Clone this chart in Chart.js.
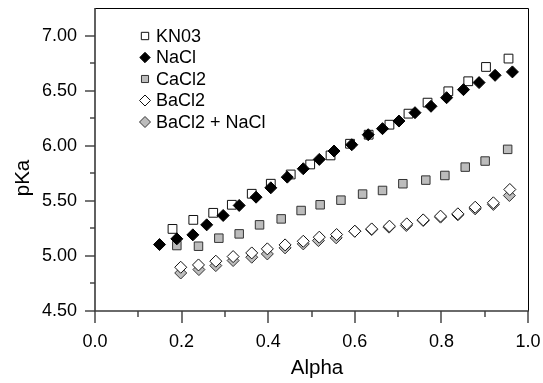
<!DOCTYPE html>
<html>
<head>
<meta charset="utf-8">
<script src="https://cdn.jsdelivr.net/npm/chart.js@4.4.0/dist/chart.umd.min.js"></script>
<style>
html,body{margin:0;padding:0;background:#fff;}
#wrap{width:543px;height:383px;position:relative;}
</style>
</head>
<body>
<div id="wrap"><canvas id="c" width="543" height="383"></canvas></div>
<script>
// ---- data ----
const kno3X = [0.179,0.227,0.273,0.316,0.362,0.406,0.452,0.497,0.544,0.589,0.632,0.680,0.724,0.768,0.816,0.862,0.903,0.955];
const kno3Y = [5.245,5.327,5.391,5.464,5.564,5.655,5.739,5.830,5.912,6.018,6.100,6.191,6.291,6.391,6.494,6.585,6.715,6.791];

const naclX = [0.149,0.189,0.226,0.258,0.296,0.333,0.372,0.406,0.444,0.481,0.518,0.552,0.593,0.631,0.664,0.702,0.739,0.776,0.812,0.851,0.887,0.924,0.964];
const naclY = [5.103,5.155,5.191,5.282,5.367,5.458,5.533,5.618,5.715,5.791,5.876,5.952,6.009,6.100,6.155,6.224,6.300,6.358,6.436,6.509,6.573,6.639,6.670];

const cacl2X = [0.189,0.239,0.286,0.333,0.380,0.430,0.476,0.520,0.568,0.618,0.664,0.711,0.764,0.808,0.855,0.901,0.953];
const cacl2Y = [5.094,5.088,5.161,5.200,5.282,5.336,5.412,5.464,5.506,5.561,5.594,5.655,5.688,5.730,5.806,5.861,5.967];

const bacl2X = [0.198,0.239,0.279,0.319,0.362,0.398,0.439,0.481,0.518,0.558,0.600,0.639,0.680,0.720,0.758,0.798,0.838,0.878,0.920,0.958];
const bacl2Y = [4.897,4.918,4.952,4.994,5.027,5.064,5.100,5.133,5.170,5.194,5.224,5.245,5.270,5.291,5.327,5.361,5.382,5.442,5.482,5.603];

const bacl2NaclX = [0.198,0.240,0.279,0.319,0.362,0.398,0.439,0.481,0.516,0.557,0.600,0.639,0.679,0.719,0.758,0.798,0.838,0.878,0.920,0.957];
const bacl2NaclY = [4.845,4.876,4.912,4.958,4.988,5.018,5.073,5.109,5.139,5.164,5.224,5.239,5.261,5.276,5.321,5.352,5.373,5.427,5.467,5.548];

const seriesNames = ['KN03','NaCl','CaCl2','BaCl2','BaCl2 + NaCl'];
const xTickLabels = ['0.0','0.2','0.4','0.6','0.8','1.0'];
const yTickLabels = ['4.50','5.00','5.50','6.00','6.50','7.00'];
const xTitle = 'Alpha';
const yTitle = 'pKa';

function pts(xs, ys){ return xs.map((x,i)=>({x:x, y:ys[i]})); }

const FONT = '"Liberation Sans", Arial, Helvetica, sans-serif';

const styles = {
  'KN03':        {shape:'rect',    fill:'#ffffff', stroke:'#111111', r:6.2,  lr:5.2},
  'NaCl':        {shape:'rectRot', fill:'#000000', stroke:'#000000', r:6.0,  lr:5.2},
  'CaCl2':       {shape:'rect',    fill:'#bcbcbc', stroke:'#333333', r:6.0,  lr:5.0},
  'BaCl2':       {shape:'rectRot', fill:'#ffffff', stroke:'#111111', r:6.0,  lr:5.5},
  'BaCl2 + NaCl':{shape:'rectRot', fill:'#bcbcbc', stroke:'#333333', r:6.0,  lr:5.5}
};

function ds(name, xs, ys, order){
  const s = styles[name];
  return {
    label:name, data:pts(xs,ys), order:order,
    pointStyle:s.shape, pointRadius:s.r, pointHoverRadius:s.r,
    backgroundColor:s.fill, borderColor:s.stroke, borderWidth:1,
    showLine:false
  };
}

const datasets = [
  ds('NaCl', naclX, naclY, 1),
  ds('KN03', kno3X, kno3Y, 2),
  ds('CaCl2', cacl2X, cacl2Y, 3),
  ds('BaCl2', bacl2X, bacl2Y, 4),
  ds('BaCl2 + NaCl', bacl2NaclX, bacl2NaclY, 5)
];

function drawMarker(ctx, shape, x, y, r, fill, stroke){
  ctx.save();
  ctx.beginPath();
  if(shape==='rect'){
    const s = Math.SQRT1_2*r;
    ctx.rect(x-s, y-s, 2*s, 2*s);
  } else {
    ctx.moveTo(x, y-r); ctx.lineTo(x+r, y); ctx.lineTo(x, y+r); ctx.lineTo(x-r, y); ctx.closePath();
  }
  ctx.fillStyle = fill; ctx.fill();
  ctx.lineWidth = 1; ctx.strokeStyle = stroke; ctx.stroke();
  ctx.restore();
}

const framePlugin = {
  id:'frame',
  afterDraw(chart){
    const ctx = chart.ctx, a = chart.chartArea;
    const xs = chart.scales.x, ys = chart.scales.y;
    ctx.save();
    // top & right thin border
    ctx.strokeStyle = '#000'; ctx.lineWidth = 1;
    ctx.beginPath();
    ctx.moveTo(a.left, a.top+0.5); ctx.lineTo(a.right+0.5, a.top+0.5); ctx.lineTo(a.right+0.5, a.bottom);
    ctx.stroke();
    // left & bottom axes
    ctx.strokeStyle = '#3a3a3a'; ctx.lineWidth = 1.6;
    ctx.beginPath();
    ctx.moveTo(a.left, a.top); ctx.lineTo(a.left, a.bottom); ctx.lineTo(a.right+1, a.bottom);
    ctx.stroke();
    // x ticks (every 0.1, major every 0.2)
    ctx.lineWidth = 1.4;
    for(let i=0;i<=10;i++){
      const v = i/10;
      const px = Math.round(xs.getPixelForValue(v));
      const len = (i%2===0) ? 12 : 6;
      ctx.beginPath(); ctx.moveTo(px, a.bottom); ctx.lineTo(px, a.bottom+len); ctx.stroke();
    }
    // y ticks (every 0.25, major every 0.5)
    for(let i=0;i<=10;i++){
      const v = 4.5 + i*0.25;
      if(v > ys.max + 1e-9) break;
      const py = Math.round(ys.getPixelForValue(v));
      const len = (i%2===0) ? 10 : 5;
      ctx.beginPath(); ctx.moveTo(a.left, py); ctx.lineTo(a.left-len, py); ctx.stroke();
    }
    // axis titles
    ctx.fillStyle = '#000';
    ctx.font = '20.5px ' + FONT;
    ctx.textAlign = 'center'; ctx.textBaseline = 'middle';
    ctx.fillText(xTitle, 317, 368);
    ctx.save();
    ctx.translate(23, 178);
    ctx.rotate(-Math.PI/2);
    ctx.fillText(yTitle, 0, 0);
    ctx.restore();
    // legend
    const lx = a.left + 50, ly0 = a.top + 28, dy = 21.5;
    ctx.font = '18px ' + FONT;
    ctx.textAlign = 'left'; ctx.textBaseline = 'middle';
    seriesNames.forEach((n, i)=>{
      const s = styles[n];
      const y = ly0 + i*dy;
      drawMarker(ctx, s.shape, lx, y, s.lr, s.fill, s.stroke);
      ctx.fillStyle = '#000';
      ctx.fillText(n, lx + 11, y + 1);
    });
    ctx.restore();
  }
};

function zeroPad(s){ s.paddingLeft = 0; s.paddingRight = 0; s.paddingTop = 0; s.paddingBottom = 0; }

new Chart(document.getElementById('c'), {
  type:'scatter',
  data:{datasets:datasets},
  options:{
    responsive:false, animation:false, devicePixelRatio:1,
    layout:{padding:{top:8, right:15, left:0, bottom:0}},
    plugins:{legend:{display:false}, tooltip:{enabled:false}},
    scales:{
      x:{
        type:'linear', min:0, max:1,
        grid:{display:false, drawTicks:false},
        border:{display:false},
        ticks:{stepSize:0.2, padding:20, color:'#000', font:{family:FONT, size:18},
          callback:(v)=>{ const i = Math.round(v/0.2); return Math.abs(v - i*0.2) < 1e-6 ? xTickLabels[i] : ''; },
          maxRotation:0, autoSkip:false},
        afterFit:(s)=>{ s.height = 72; zeroPad(s); }
      },
      y:{
        type:'linear', min:4.5, max:7.25,
        grid:{display:false, drawTicks:false},
        border:{display:false},
        ticks:{stepSize:0.5, padding:18, color:'#000', font:{family:FONT, size:18},
          callback:(v)=>{ const i = Math.round((v-4.5)/0.5); return Math.abs(v - (4.5+i*0.5)) < 1e-6 ? (yTickLabels[i]||'') : ''; },
          autoSkip:false},
        afterFit:(s)=>{ s.width = 95; zeroPad(s); }
      }
    }
  },
  plugins:[framePlugin]
});
</script>
</body>
</html>
